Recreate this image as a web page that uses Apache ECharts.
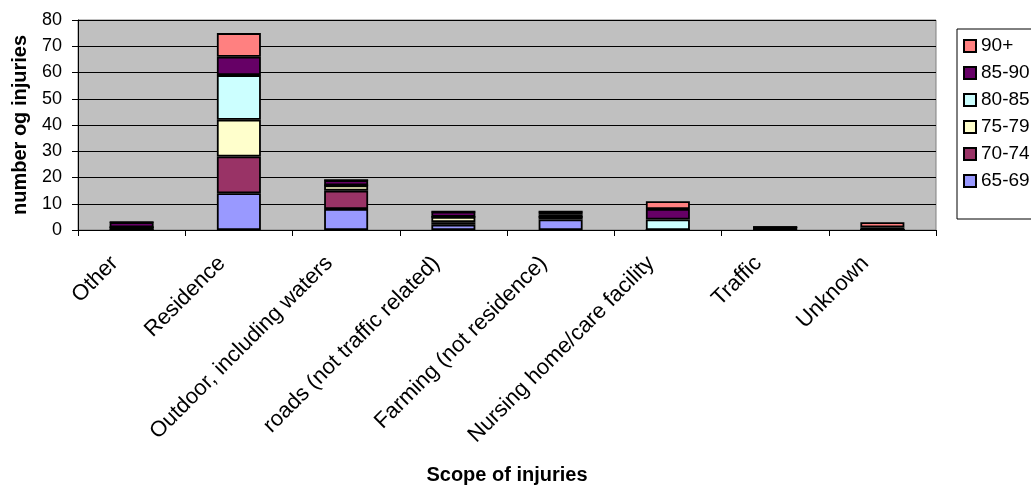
<!DOCTYPE html>
<html><head><meta charset="utf-8">
<script src="https://cdn.jsdelivr.net/npm/echarts@6/dist/echarts.min.js"></script>
<style>html,body{margin:0;padding:0;background:#fff}#c{width:1031px;height:486px}</style>
</head><body><div id="c"></div>
<script>
const categories = ['Other','Residence','Outdoor, including waters','roads (not traffic related)','Farming (not residence)','Nursing home/care facility','Traffic','Unknown'];
const s6569 = [0,14,8,2,4,0,0,0];
const s7074 = [1,14,7,1,1,0,1,0];
const s7579 = [0,14,2,2,0,0,0,0];
const s8085 = [0,17,0,0,1,4,0,0];
const s8590 = [2,7,2,2,1,4,0,1];
const s90 = [0,9,0,0,0,3,0,2];
const seriesNames = ['65-69','70-74','75-79','80-85','85-90','90+'];
const seriesColors = ['#9999FF','#993366','#FFFFCC','#CCFFFF','#660066','#FF8080'];
const seriesData = [s6569,s7074,s7579,s8085,s8590,s90];
const yTicks = [0,10,20,30,40,50,60,70,80];

const font = 'Liberation Sans, Arial, sans-serif';
const chart = echarts.init(document.getElementById('c'));
chart.setOption({
  animation: false,
  backgroundColor: '#fff',
  textStyle: {fontFamily: font},
  grid: {left: 78, right: 95, top: 20, bottom: 256, show: true, backgroundColor: '#C0C0C0', borderColor: '#808080', borderWidth: 1, containLabel: false, outerBoundsMode: 'none'},
  legend: {
    orient: 'vertical', left: 957, top: 29,
    data: seriesNames.slice().reverse(),
    itemWidth: 12, itemHeight: 12, itemGap: 7,
    icon: 'rect',
    borderColor: '#000', borderWidth: 1, padding: [7, 30, 28, 6],
    textStyle: {fontSize: 19, lineHeight: 20, color: '#000', fontFamily: font, padding: [0,0,0,0]}
  },
  xAxis: {
    type: 'category', data: categories,
    name: 'Scope of injuries', nameLocation: 'middle', nameGap: 235,
    nameTextStyle: {fontSize: 20, fontWeight: 'bold', color: '#000', fontFamily: font},
    axisLine: {lineStyle: {color: '#000', width: 1}},
    axisTick: {show: true, length: 6, lineStyle: {color: '#000'}},
    axisLabel: {rotate: 45, fontSize: 22, color: '#000', fontFamily: font, margin: 13, interval: 0, padding: [0,24,0,0]}
  },
  yAxis: {
    type: 'value', min: 0, max: 80, interval: 10,
    name: 'number og injuries', nameLocation: 'middle', nameGap: 48,
    nameTextStyle: {fontSize: 20, fontWeight: 'bold', color: '#000', fontFamily: font},
    axisLine: {show: true, lineStyle: {color: '#000'}},
    axisTick: {show: true, length: 6, lineStyle: {color: '#000'}},
    axisLabel: {fontSize: 18, color: '#000', fontFamily: font, margin: 16,
      formatter: v => yTicks.includes(v) ? String(v) : ''},
    splitLine: {show: true, lineStyle: {color: '#000', width: 1}}
  },
  series: seriesNames.map((n, i) => ({
    name: n, type: 'bar', stack: 'all', barWidth: 44,
    data: seriesData[i],
    itemStyle: {color: seriesColors[i], borderColor: '#000', borderWidth: 1.8}
  }))
});
</script></body></html>
